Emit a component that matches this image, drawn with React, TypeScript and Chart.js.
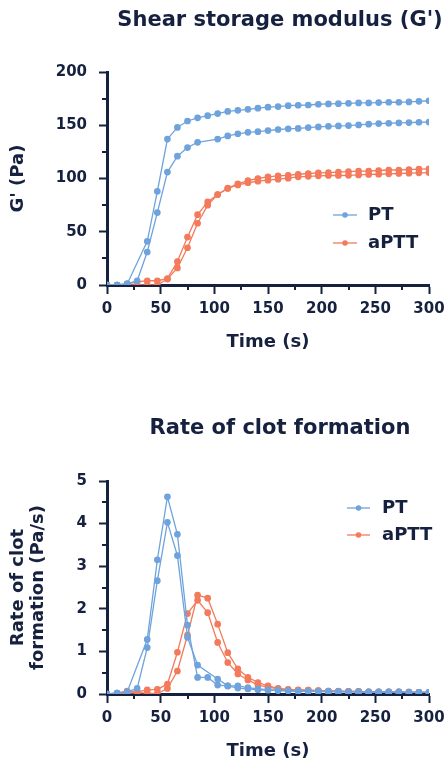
import React, { useEffect, useRef } from 'react';
import { Chart, registerables } from 'chart.js';

Chart.register(...registerables);

// ---------- data ----------
const time = [0, 9.4, 18.8, 28.1, 37.5, 46.9, 56.3, 65.6, 75, 84.4, 93.8, 103.1, 112.5, 121.9, 131.3, 140.6, 150, 159.4, 168.8, 178.1, 187.5, 196.9, 206.3, 215.6, 225, 234.4, 243.8, 253.1, 262.5, 271.9, 281.3, 290.6, 300];

const seriesNames = ['PT', 'aPTT'];

const gPT1 = [0, 0, 1, null, 41, 88, 137, 148, 154, 157, 159, 161, 163, 164, 165, 166, 167, 167.5, 168.4, 168.8, 169, 169.7, 170, 170.3, 170.6, 171, 171, 171.3, 171.6, 171.6, 171.9, 172.5, 173];
const gPT2 = [0, 0, 1, 4, 31, 68, 106, 121, 129, 134, null, 137, 140, 142, 143.4, 144, 145, 146, 146.6, 147, 147.8, 148.4, 149, 149.4, 149.7, 150.3, 151, 151.6, 151.9, 152.2, 152.5, 152.8, 153];
const gAPTT1 = [0, 0, 1, 3, 4, 4, 6, 22, 45, 66, 78, 85, 91, 95, 98, 100, 101.6, 102.5, 103, 104, 104.7, 105.3, 105.6, 106, 106.5, 107, 107, 107.5, 108, 108, 108.4, 108.8, 109];
const gAPTT2 = [0, 0, 0, 0, 0, 0, 5.6, 16, 35, 58, 75, 85, 90.6, 94, 96, 97.5, 98.4, 99.4, 100.3, 101.6, 102, 102.5, 102.8, 102.8, 103, 103.4, 103.8, 104, 104.4, 104.7, 105, 105.3, 105.6];

const rPT1 = [0, 0.02, 0.05, null, 1.28, 3.15, 4.63, 3.75, 1.62, 0.39, 0.39, 0.21, 0.19, 0.19, 0.15, 0.12, 0.1, 0.09, 0.08, 0.07, 0.07, 0.06, 0.06, 0.06, 0.05, 0.05, 0.05, 0.05, 0.05, 0.05, 0.04, 0.04, 0.04];
const rPT2 = [0, 0.02, 0.05, 0.13, 1.09, 2.66, 4.03, 3.25, 1.33, 0.68, null, 0.35, 0.19, 0.14, 0.12, 0.1, 0.09, 0.08, 0.07, 0.06, 0.06, 0.06, 0.05, 0.05, 0.05, 0.05, 0.04, 0.04, 0.04, 0.04, 0.04, 0.04, 0.04];
const rAPTT1 = [0, 0.02, 0.07, 0.05, 0.1, 0.11, 0.23, 0.98, 1.89, 2.2, 1.91, 1.21, 0.74, 0.47, 0.33, 0.21, 0.16, 0.12, 0.1, 0.09, 0.09, 0.08, 0.07, 0.06, 0.06, 0.06, 0.05, 0.05, 0.05, 0.05, 0.04, 0.04, 0.04];
const rAPTT2 = [0, 0, 0.02, 0.03, 0.02, 0.01, 0.13, 0.54, 1.38, 2.32, 2.25, 1.64, 0.97, 0.59, 0.39, 0.27, 0.19, 0.13, 0.11, 0.1, 0.09, 0.08, 0.07, 0.07, 0.06, 0.06, 0.05, 0.05, 0.05, 0.05, 0.05, 0.04, 0.04];

const xTicks = [0, 50, 100, 150, 200, 250, 300];
const xMinorTicks = [25, 75, 125, 175, 225, 275];
const gTicks = [0, 50, 100, 150, 200];
const gMinorTicks = [25, 75, 125, 175];
const rTicks = [0, 1, 2, 3, 4, 5];
const rMinorTicks = [0.5, 1.5, 2.5, 3.5, 4.5];

// ---------- style ----------
const NAVY = '#16213f';
const BLUE = '#6fa3dc';
const RED = '#f37a5b';
const FONT = "'DejaVu Sans', sans-serif";

const mkSet = (label: string, values: (number | null)[], color: string) => ({
  label,
  data: time.map((t, i) => ({ x: t, y: values[i] })),
  borderColor: color,
  backgroundColor: color,
  pointBackgroundColor: color,
  pointBorderColor: color,
  pointRadius: 2.7,
  pointHoverRadius: 2.7,
  borderWidth: 1.3,
  tension: 0,
  spanGaps: true,
});

type Decor = {
  title: string; tx: number; ty: number;
  lx1: number; lx2: number; ltx: number; ly: number[];
  xMinor: number[]; yMinor: number[];
};

const decorPlugin = (d: Decor) => ({
  id: 'decor',
  afterDraw(chart: any) {
    const ctx = chart.ctx as CanvasRenderingContext2D;
    const xs = chart.scales.x;
    const ys = chart.scales.y;
    ctx.save();
    ctx.strokeStyle = NAVY;
    ctx.lineWidth = 2;
    ctx.beginPath();
    for (const v of d.xMinor) {
      const p = Math.round(xs.getPixelForValue(v));
      ctx.moveTo(p, xs.top);
      ctx.lineTo(p, xs.top + 5);
    }
    for (const v of d.yMinor) {
      const p = Math.round(ys.getPixelForValue(v));
      ctx.moveTo(ys.right, p);
      ctx.lineTo(ys.right - 5, p);
    }
    ctx.stroke();
    // title
    ctx.fillStyle = NAVY;
    ctx.font = `bold 21px ${FONT}`;
    ctx.textAlign = 'center';
    ctx.textBaseline = 'middle';
    ctx.fillText(d.title, d.tx, d.ty);
    // legend
    const colors = [BLUE, RED];
    seriesNames.forEach((name, i) => {
      const y = d.ly[i];
      ctx.strokeStyle = colors[i];
      ctx.lineWidth = 1.3;
      ctx.beginPath();
      ctx.moveTo(d.lx1, y);
      ctx.lineTo(d.lx2, y);
      ctx.stroke();
      ctx.fillStyle = colors[i];
      ctx.beginPath();
      ctx.arc((d.lx1 + d.lx2) / 2, y, 2.8, 0, Math.PI * 2);
      ctx.fill();
      ctx.fillStyle = NAVY;
      ctx.font = `bold 18px ${FONT}`;
      ctx.textAlign = 'left';
      ctx.textBaseline = 'middle';
      ctx.fillText(name, d.ltx, y);
    });
    ctx.restore();
  },
});

const tickFont = { family: FONT, size: 15, weight: 'bold' as const };
const titleFont = { family: FONT, size: 18, weight: 'bold' as const, lineHeight: 1.11 };

function makeConfig(opts: {
  datasets: any[]; yMax: number; yTicks: number[]; yTitle: string | string[];
  padTop: number; xHeight: number; xTitlePad: number; decor: Decor;
}) {
  return {
    type: 'line' as const,
    data: { datasets: opts.datasets },
    plugins: [decorPlugin(opts.decor)],
    options: {
      responsive: true,
      maintainAspectRatio: false,
      animation: false as const,
      layout: { padding: { top: opts.padTop, right: 18, left: 0, bottom: 0 } },
      plugins: { legend: { display: false }, tooltip: { enabled: false }, title: { display: false } },
      scales: {
        x: {
          type: 'linear' as const,
          min: 0,
          max: 300,
          afterBuildTicks: (s: any) => { s.ticks = xTicks.map((v) => ({ value: v })); },
          afterFit: (s: any) => { s.height = opts.xHeight; s.paddingLeft = 0; s.paddingRight = 0; },
          ticks: { color: NAVY, font: tickFont, padding: 6, maxRotation: 0 },
          grid: { drawOnChartArea: false, drawTicks: true, tickLength: 9, tickColor: NAVY, tickWidth: 2 },
          border: { display: true, color: NAVY, width: 3 },
          title: { display: true, text: 'Time (s)', color: NAVY, font: titleFont, padding: { top: 0, bottom: opts.xTitlePad } },
        },
        y: {
          type: 'linear' as const,
          min: 0,
          max: opts.yMax,
          afterBuildTicks: (s: any) => { s.ticks = opts.yTicks.map((v) => ({ value: v })); },
          afterFit: (s: any) => { s.width = 107; s.paddingTop = 0; s.paddingBottom = 0; },
          ticks: { color: NAVY, font: tickFont, padding: 12 },
          grid: { drawOnChartArea: false, drawTicks: true, tickLength: 8, tickColor: NAVY, tickWidth: 2 },
          border: { display: true, color: NAVY, width: 3 },
          title: { display: true, text: opts.yTitle, color: NAVY, font: titleFont, padding: { top: 8, bottom: 0 } },
        },
      },
    },
  };
}

function ChartBox({ config, top, height }: { config: any; top: number; height: number }) {
  const ref = useRef<HTMLCanvasElement>(null);
  useEffect(() => {
    const c = new Chart(ref.current as HTMLCanvasElement, config);
    return () => c.destroy();
  }, []);
  return (
    <div style={{ position: 'absolute', left: 0, top, width: 447, height }}>
      <canvas ref={ref} />
    </div>
  );
}

export default function App() {
  const topCfg = makeConfig({
    datasets: [
      mkSet(seriesNames[0], gPT1, BLUE),
      mkSet(seriesNames[0], gPT2, BLUE),
      mkSet(seriesNames[1], gAPTT1, RED),
      mkSet(seriesNames[1], gAPTT2, RED),
    ],
    yMax: 200,
    yTicks: gTicks,
    yTitle: "G' (Pa)",
    padTop: 72,
    xHeight: 95,
    xTitlePad: 27.5,
    decor: { title: "Shear storage modulus (G')", tx: 280, ty: 21, lx1: 333, lx2: 357, ltx: 368, ly: [215, 243], xMinor: xMinorTicks, yMinor: gMinorTicks },
  });
  const botCfg = makeConfig({
    datasets: [
      mkSet(seriesNames[0], rPT1, BLUE),
      mkSet(seriesNames[0], rPT2, BLUE),
      mkSet(seriesNames[1], rAPTT1, RED),
      mkSet(seriesNames[1], rAPTT2, RED),
    ],
    yMax: 5,
    yTicks: rTicks,
    yTitle: ['Rate of clot', 'formation (Pa/s)'],
    padTop: 101,
    xHeight: 67,
    xTitlePad: 0,
    decor: { title: 'Rate of clot formation', tx: 280, ty: 49, lx1: 347, lx2: 370, ltx: 382, ly: [128, 155], xMinor: xMinorTicks, yMinor: rMinorTicks },
  });
  return (
    <div style={{ position: 'absolute', left: 0, top: 0, width: 447, height: 761, background: '#ffffff' }}>
      <ChartBox config={topCfg} top={0} height={380} />
      <ChartBox config={botCfg} top={380} height={381} />
    </div>
  );
}
